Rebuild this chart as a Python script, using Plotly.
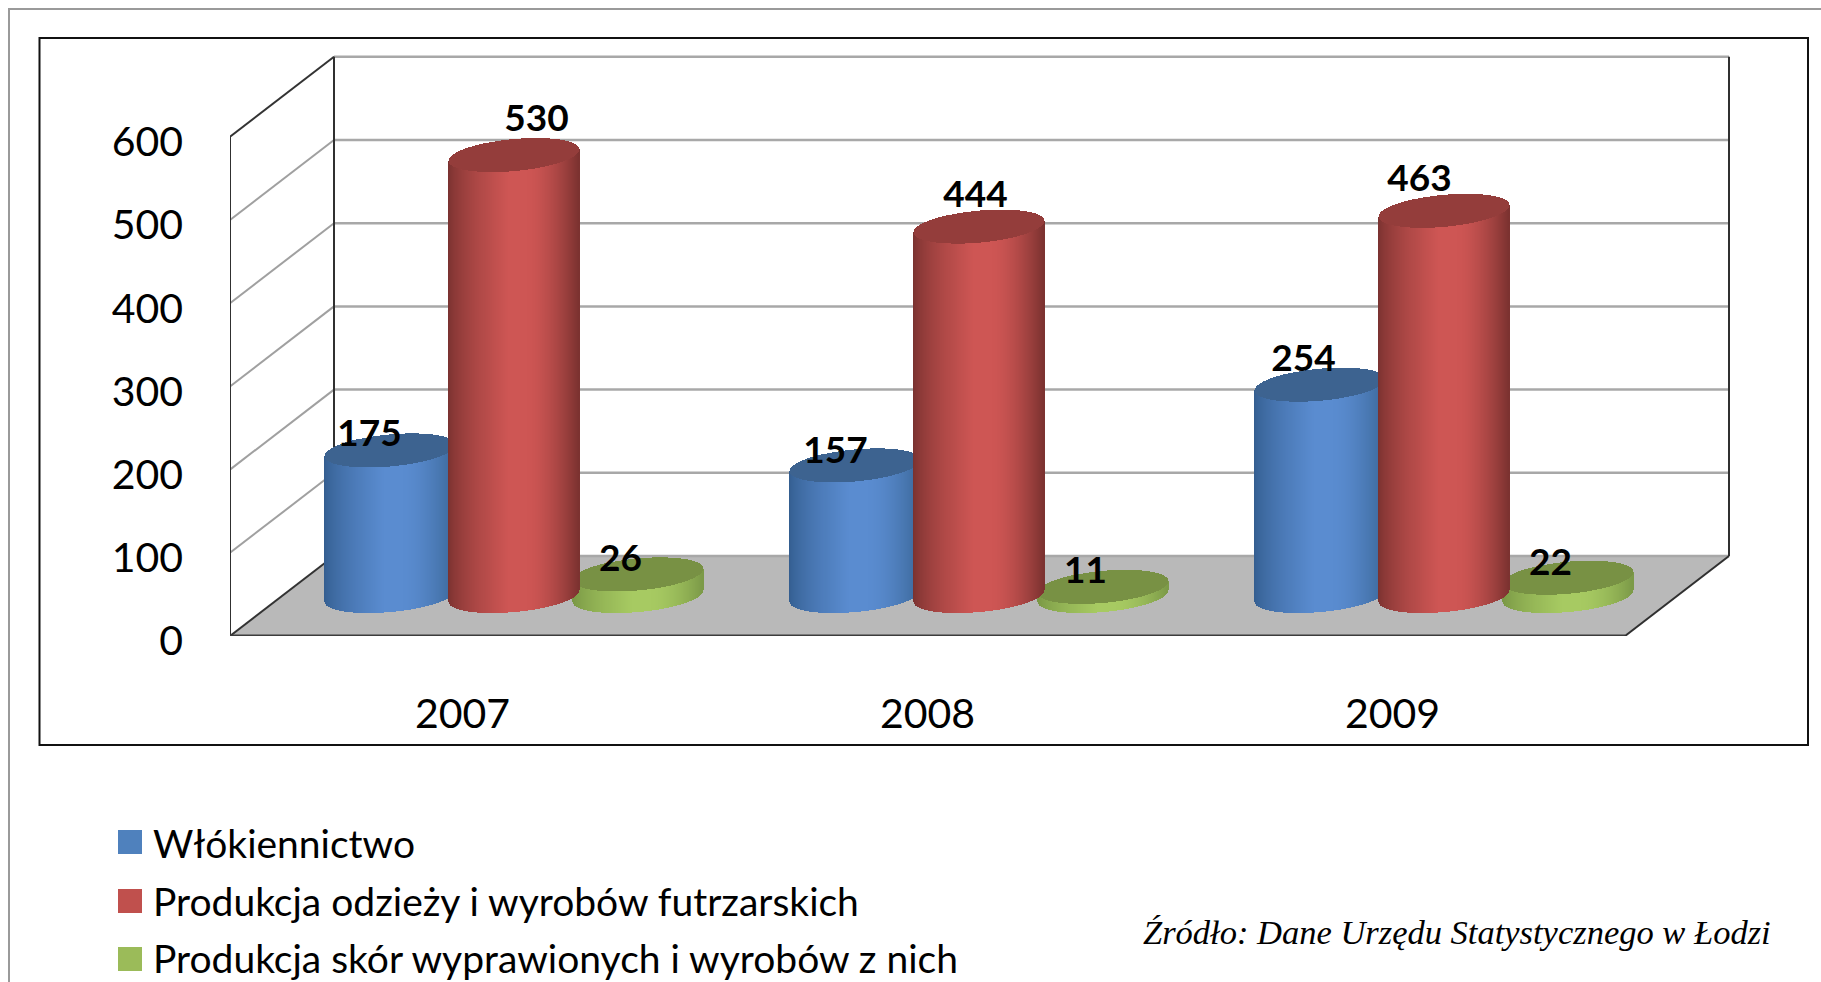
import numpy as np
import plotly.graph_objects as go

# ---- data ----
years = ["2007", "2008", "2009"]
wlokiennictwo = [175, 157, 254]
odziez = [530, 444, 463]
skory = [26, 11, 22]
series_names = ["Włókiennictwo", "Produkcja odzieży i wyrobów futrzarskich",
                "Produkcja skór wyprawionych i wyrobów z nich"]
y_ticks = [0, 100, 200, 300, 400, 500, 600]
source_text = "Źródło: Dane Urzędu Statystycznego w Łodzi"

# ---- styles ----
LEFT, RIGHT, TOP, BOTTOM = 230, 1740, 46, 636     # plot area in page pixels
PX_X = 465.0                                      # pixels per category
PX_Y = 0.832                                      # pixels per value unit
DX, DY = 104 / PX_X, 80 / PX_Y                    # depth of the floor
SPACING = 124 / PX_X
R, K, H = 61 / PX_X, 22 / PX_X, 17 / PX_Y         # cylinder cross-section
W = float(np.hypot(R, K))
PHI = float(np.arctan2(K, R))
STRIPS = 130

shades = {
    "blue": ((52, 94, 144), (90, 140, 208), (60, 104, 154), (61, 99, 144)),
    "red": ((122, 50, 48), (206, 86, 84), (124, 50, 48), (148, 61, 59)),
    "green": ((120, 150, 68), (167, 202, 98), (124, 154, 72), (120, 145, 68)),
}
label_dx = {"blue": [-21, -20, -17], "red": [22, -4, -25], "green": [-18, -18, -18]}
label_dy = {"blue": [-14, -12, -23], "red": [-33, -29, -29], "green": [-13, -13, -12]}

rows = [("blue", -1, wlokiennictwo), ("green", 1, skory), ("red", 0, odziez)]
legend_colors = ["#4f81bd", "#c0504d", "#9bbb59"]
legend_swatch_y = [842, 901, 959]
legend_text_y = [843, 901, 958]


def px_x(px):
    return (px - LEFT) / (RIGHT - LEFT)


def px_y(py):
    return (BOTTOM - py) / (BOTTOM - TOP)


def mix(a, b, f):
    return tuple(a[i] + (b[i] - a[i]) * f for i in range(3))


def body_color(key, f):
    left, mid, right, _ = shades[key]
    if f < 0.5:
        c = mix(left, mid, min(1.0, (f / 0.45)) ** 0.7)
    elif f < 0.6:
        c = mid
    else:
        c = mix(mid, right, ((f - 0.6) / 0.4) ** 1.6)
    return "rgb(%d,%d,%d)" % c


fig = go.Figure()
offs = np.linspace(-W, W, STRIPS)
strip_w = 1.7 / PX_X
alpha = np.arccos(np.clip(offs / W, -1, 1))
upper = H * np.sin(PHI + alpha)
lower = H * np.sin(PHI - alpha)
floor_mid = DY / 2

for key, slot, values in rows:
    xs, bases, heights, colors = [], [], [], []
    for i, v in enumerate(values):
        cx = i + 0.5 + DX / 2 + slot * SPACING
        xs += list(cx + offs)
        bases += list(floor_mid + lower)
        heights += [v] * STRIPS
        colors += [body_color(key, j / (STRIPS - 1)) for j in range(STRIPS)]
        xs += list(cx + offs)
        bases += list(floor_mid + v + lower)
        heights += list(upper - lower)
        colors += ["rgb(%d,%d,%d)" % shades[key][3]] * STRIPS
    fig.add_trace(go.Bar(x=xs, y=heights, base=bases, width=strip_w,
                         marker=dict(color=colors, line=dict(width=0)),
                         showlegend=False, hoverinfo="skip"))

# value labels
lx, ly, lt = [], [], []
for key, slot, values in rows:
    for i, v in enumerate(values):
        lx.append(i + 0.5 + DX / 2 + slot * SPACING + label_dx[key][i] / PX_X)
        ly.append(floor_mid + v - label_dy[key][i] / PX_Y)
        lt.append(str(v))
fig.add_trace(go.Scatter(x=lx, y=ly, text=lt, mode="text", textposition="middle center",
                         textfont=dict(family="Lato", size=37, color="black", weight="bold"),
                         cliponaxis=False, showlegend=False, hoverinfo="skip"))

# 3-D box: floor, walls, gridlines
n_cat = len(years)
shapes = [
    dict(type="path", xref="x", yref="y", layer="below", fillcolor="#b9b9b9", line=dict(width=0),
         path=f"M0,0 L{n_cat},0 L{n_cat + DX},{DY} L{DX},{DY} Z"),
]
top_v = y_ticks[-1]
for v in y_ticks:
    edge = v in (y_ticks[0], top_v)
    shapes.append(dict(type="line", xref="x", yref="y", layer="below", x0=DX, x1=n_cat + DX,
                       y0=v + DY, y1=v + DY, line=dict(color="#a8a8a8", width=2.5)))
    shapes.append(dict(type="line", xref="x", yref="y", layer="below", x0=0, x1=DX, y0=v, y1=v + DY,
                       line=dict(color="#333333" if edge else "#a0a0a0", width=2)))
for a in [(DX, DY, DX, top_v + DY), (n_cat + DX, DY, n_cat + DX, top_v + DY), (0, 0, 0, top_v)]:
    shapes.append(dict(type="line", xref="x", yref="y", layer="below", x0=a[0], y0=a[1], x1=a[2], y1=a[3],
                       line=dict(color="#303030", width=2)))
shapes.append(dict(type="line", xref="x", yref="y", layer="below", x0=0, x1=n_cat, y0=0, y1=0,
                   line=dict(color="#3c3c3c", width=3)))
shapes.append(dict(type="line", xref="x", yref="y", layer="below", x0=n_cat, x1=n_cat + DX, y0=0, y1=DY,
                   line=dict(color="#303030", width=2)))
# page frames
shapes.append(dict(type="path", xref="paper", yref="paper", line=dict(color="#9a9a9a", width=2),
                   path=f"M{px_x(9)},{px_y(982)} L{px_x(9)},{px_y(9)} L{px_x(1821)},{px_y(9)}"))
shapes.append(dict(type="rect", xref="paper", yref="paper", line=dict(color="#111111", width=2),
                   x0=px_x(39.5), x1=px_x(1808), y0=px_y(745), y1=px_y(38)))

# legend: swatches and names
annotations = [dict(text=source_text, xref="paper", yref="paper", x=px_x(1457), y=px_y(932),
                    xanchor="center", yanchor="middle", showarrow=False,
                    font=dict(family="Liberation Serif", size=34.5, style="italic", color="black"))]
for name, col, sy, ty in zip(series_names, legend_colors, legend_swatch_y, legend_text_y):
    shapes.append(dict(type="rect", xref="paper", yref="paper", fillcolor=col, line=dict(width=0),
                       x0=px_x(118), x1=px_x(142), y0=px_y(sy + 12), y1=px_y(sy - 12)))
    annotations.append(dict(text=name, xref="paper", yref="paper", x=px_x(151), y=px_y(ty),
                            xanchor="left", yanchor="middle", showarrow=False,
                            font=dict(family="Lato", size=39, color="black")))

fig.update_layout(
    width=1821, height=982, autosize=False, showlegend=False,
    margin=dict(l=LEFT, r=1821 - RIGHT, t=TOP, b=982 - BOTTOM, pad=0),
    paper_bgcolor="white", plot_bgcolor="rgba(0,0,0,0)",
    barmode="overlay", bargap=0, shapes=shapes, annotations=annotations,
    font=dict(family="Lato", color="black"),
    xaxis=dict(range=[0, (RIGHT - LEFT) / PX_X], tickmode="array", tickvals=[i + 0.5 for i in range(n_cat)],
               ticktext=years, showgrid=False, zeroline=False, showline=False, ticks="",
               ticklabelstandoff=50, tickfont=dict(family="Lato", size=41, color="black"), fixedrange=True),
    yaxis=dict(range=[0, (BOTTOM - TOP) / PX_Y], tickmode="array", tickvals=y_ticks,
               showgrid=False, zeroline=False, showline=False, ticks="",
               ticklabelstandoff=46, ticklabelshift=5,
               tickfont=dict(family="Lato", size=41, color="black"), fixedrange=True),
)

fig.write_html("out.html", config={"displayModeBar": False},
               post_script="document.documentElement.style.cssText='margin:0;padding:0;height:982px;overflow:hidden';"
                           "document.body.style.cssText='margin:0;padding:0;height:982px;overflow:hidden';")
